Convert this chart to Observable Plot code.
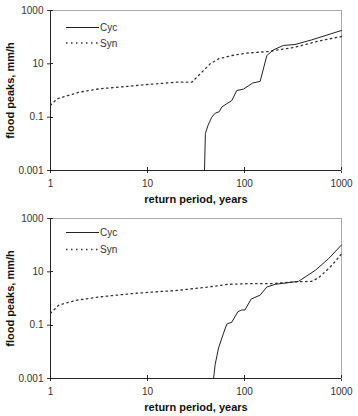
<!DOCTYPE html>
<html>
<head>
<meta charset="utf-8">
<script src="https://cdn.jsdelivr.net/npm/d3@7"></script>
<script src="https://cdn.jsdelivr.net/npm/@observablehq/plot@0.6"></script>
<style>
  body { margin: 0; background: #fff; }
  #charts svg { display: block; }
</style>
</head>
<body>
<div id="charts"></div>
<script>
// ---- data (return period in years, flood peak in mm/h) ----
const topSynX = [1, 1.17, 2, 3.2, 5, 10, 20, 28.6, 33.6, 44.3, 54, 74, 101.6, 177, 331, 579, 1000];
const topSynY = [0.28, 0.49, 0.87, 1.16, 1.33, 1.68, 2.05, 2.05, 3.66, 10, 15.4, 20.5, 25, 29, 42, 71, 106];
const topCycX = [38.7, 39.5, 42, 46, 49.8, 54.8, 58.4, 65.7, 74, 83.3, 97.7, 110, 121, 145, 170, 199, 252, 331, 492, 1000];
const topCycY = [0.001, 0.024, 0.049, 0.1, 0.14, 0.16, 0.24, 0.32, 0.42, 1.0, 1.13, 1.5, 1.9, 2.2, 20.5, 33.5, 49, 53, 79, 178];

const botSynX = [1, 1.22, 1.88, 3.3, 7.2, 10, 20, 42.6, 68, 110, 191, 331, 492, 579, 795, 1000];
const botSynY = [0.28, 0.57, 0.87, 1.16, 1.55, 1.69, 2.0, 2.7, 3.4, 3.6, 3.6, 4.2, 4.4, 5.9, 17.4, 47];
const botCycX = [48, 49.8, 54, 60.8, 65.7, 74, 85.5, 93.6, 101, 117, 145, 170, 207, 263, 361, 537, 735, 1000];
const botCycY = [0.001, 0.0033, 0.014, 0.05, 0.11, 0.13, 0.32, 0.37, 0.37, 0.95, 1.34, 2.7, 3.4, 3.8, 4.4, 11.4, 31, 102];

const xTicks = [1, 10, 100, 1000];
const yTicks = [0.001, 0.1, 10, 1000];
const seriesNames = ["Cyc", "Syn"];
const xTitle = "return period, years";
const yTitle = "flood peaks, mm/h";

function rows(xs, ys) { return xs.map((x, i) => ({x, y: ys[i]})); }

const DOTS = "1.5,3.5";

function makeChart(cycX, cycY, synX, synY, legendTop, legendGap) {
  const W = 358, H = 208, mT = 10, mB = 38, mL = 50, mR = 17;
  const svg = Plot.plot({
    width: W, height: H,
    marginTop: mT, marginBottom: mB, marginLeft: mL, marginRight: mR,
    style: {fontFamily: "Liberation Sans, Arial, sans-serif", fontSize: "10px", color: "#333", background: "#fff"},
    x: {type: "log", domain: [1, 1000], ticks: xTicks, tickFormat: d => String(d), tickSize: 3, tickPadding: 6, label: null},
    y: {type: "log", domain: [0.001, 1000], ticks: yTicks, tickFormat: d => String(d), tickSize: 3, tickPadding: 4, label: null},
    marks: [
      Plot.frame({stroke: "#aaaaaa", strokeWidth: 1}),
      Plot.ruleX([1], {stroke: "#222", strokeWidth: 1}),
      Plot.ruleY([0.001], {stroke: "#222", strokeWidth: 1}),
      Plot.line(rows(synX, synY), {x: "x", y: "y", stroke: "#333", strokeWidth: 1.3, strokeDasharray: DOTS}),
      Plot.line(rows(cycX, cycY), {x: "x", y: "y", stroke: "#222", strokeWidth: 1}),
      Plot.text([xTitle], {frameAnchor: "bottom", dy: 32, text: d => d, fontWeight: "bold", fontSize: 11, fill: "#111"}),
      Plot.text([yTitle], {frameAnchor: "left", dx: -40, rotate: -90, textAnchor: "middle", text: d => d, fontWeight: "bold", fontSize: 11, fill: "#111"})
    ]
  });
  const sx = svg.scale("x"), sy = svg.scale("y");
  const sel = d3.select(svg);
  // inward halves of the tick marks (ticks cross the axis lines)
  const tg = sel.append("g").attr("stroke", "#222").attr("stroke-width", 1);
  yTicks.forEach(v => {
    const py = Math.round(sy.apply(v)) + 0.5;
    tg.append("line").attr("x1", mL).attr("x2", mL + 3).attr("y1", py).attr("y2", py);
  });
  xTicks.forEach(v => {
    const px = Math.round(sx.apply(v)) + 0.5;
    tg.append("line").attr("x1", px).attr("x2", px).attr("y1", H - mB).attr("y2", H - mB - 3);
  });
  // legend inside the plot area, top-left
  const g = sel.append("g")
    .attr("font-family", "Liberation Sans, Arial, sans-serif").attr("font-size", 10)
    .attr("fill", "#333").attr("text-anchor", "start");
  const styles = [{dash: null, w: 1, c: "#222"}, {dash: DOTS, w: 1.3, c: "#333"}];
  seriesNames.forEach((name, i) => {
    const y = mT + legendTop + i * legendGap + 0.5;
    const line = g.append("line").attr("x1", mL + 16).attr("x2", mL + 49).attr("y1", y).attr("y2", y)
      .attr("stroke", styles[i].c).attr("stroke-width", styles[i].w);
    if (styles[i].dash) line.attr("stroke-dasharray", styles[i].dash);
    g.append("text").attr("x", mL + 50).attr("y", y).attr("dy", "0.35em").text(name);
  });
  return svg;
}

const root = document.getElementById("charts");
root.appendChild(makeChart(topCycX, topCycY, topSynX, topSynY, 17, 15.5));
root.appendChild(makeChart(botCycX, botCycY, botSynX, botSynY, 14, 17));
</script>
</body>
</html>
